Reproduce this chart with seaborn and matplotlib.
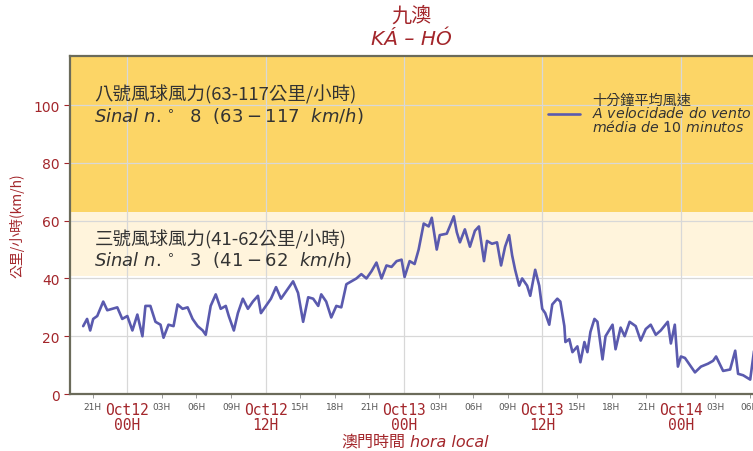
import pandas as pd
import matplotlib
matplotlib.use('Agg')
import matplotlib.pyplot as plt
import matplotlib.dates as mdates
from matplotlib.ticker import FuncFormatter
import seaborn as sns

sns.set_style('white')
plt.rcParams['font.family'] = ['DejaVu Sans', 'Noto Sans CJK TC']
plt.rcParams['axes.unicode_minus'] = False

# 讀圖估計: 距離 10月12日 00時 的小時數, 以及十分鐘平均風速 (km/h)
hours = [-3.83, -3.49, -3.22, -2.96, -2.61, -2.09, -1.74, -1.31, -0.87, -0.44,
         0.0, 0.44, 0.87, 1.31, 1.57, 2.0, 2.44, 2.88, 3.14, 3.57,
         4.01, 4.36, 4.79, 5.23, 5.66, 6.10, 6.54, 6.80, 7.23, 7.67,
         8.10, 8.54, 8.80, 9.24, 9.59, 10.02, 10.46, 10.89, 11.33, 11.59,
         12.03, 12.46, 12.90, 13.33, 13.77, 14.38, 14.81, 15.25, 15.69, 16.12,
         16.56, 16.82, 17.25, 17.69, 18.13, 18.56, 19.0, 19.43, 19.87, 20.30,
         20.74, 21.18, 21.61, 22.05, 22.48, 22.92, 23.36, 23.79, 24.05, 24.49,
         24.92, 25.27, 25.71, 26.14, 26.41, 26.84, 27.10, 27.71, 27.97, 28.32,
         28.58, 28.85, 29.28, 29.72, 30.15, 30.50, 30.94, 31.20, 31.63, 32.07,
         32.42, 32.77, 33.12, 33.38, 33.64, 33.99, 34.25, 34.68, 34.95, 35.38,
         35.73, 35.99, 36.25, 36.60, 36.86, 37.30, 37.56, 37.91, 38.0, 38.34,
         38.61, 39.04, 39.30, 39.65, 39.91, 40.17, 40.52, 40.78, 41.22, 41.48,
         42.09, 42.35, 42.79, 43.14, 43.57, 44.10, 44.53, 44.97, 45.40, 45.84,
         46.27, 46.88, 47.15, 47.49, 47.76, 48.02, 48.37, 48.80, 49.24, 49.76,
         50.37, 50.81, 51.07, 51.68, 52.29, 52.73, 52.98, 53.42, 54.03, 54.29,
         54.55]
speed = [23.5, 26, 22, 26, 27, 32, 29, 29.5, 30, 26,
         27, 22, 27.5, 20, 30.5, 30.5, 25, 24, 19.5, 24,
         23.5, 31, 29.5, 30, 26, 23.5, 22, 20.5, 30.5, 34.5,
         29.5, 30.5, 27, 22, 28, 33, 29.5, 32, 34, 28,
         30.5, 33, 37, 33, 35.5, 39, 35, 25, 33.5, 33,
         30.5, 34.5, 32, 26.5, 30.5, 30, 38, 39, 40, 41.5,
         40, 42.5, 45.5, 40, 44.5, 44, 46, 46.5, 40.5, 46,
         45, 50, 59, 58, 61, 50, 55, 55.5, 58, 61.5,
         56, 52.5, 57, 51, 56.5, 58, 46, 53, 52, 52.5,
         44.5, 51, 55, 48, 43, 37.5, 40, 37.5, 34, 43,
         37.5, 29.5, 28, 24, 31, 33, 32, 23.5, 18, 19,
         14.5, 16.5, 11, 18, 14.5, 21.5, 26, 25, 12, 20,
         24, 15.5, 23, 20, 25, 23.5, 18.5, 22.5, 24, 20.5,
         22, 25, 17.5, 24, 9.5, 13, 12.5, 10, 7.5, 9.5,
         10.5, 11.5, 13, 8, 8.5, 15, 7, 6.5, 5, 13,
         20]

base = pd.Timestamp('2023-10-12 00:00')
df = pd.DataFrame({'time': base + pd.to_timedelta(hours, unit='h'), 'speed': speed})

red = '#A3262B'
line_color = '#5A5AAE'
cjk = ['Noto Sans CJK TC', 'DejaVu Sans']

fig = plt.figure(figsize=(7.53, 4.52), dpi=100)
ax = fig.add_axes([0.093, 0.126, 0.912, 0.748])

# 風球區間
ax.axhspan(63, 117, color='#FCD566', zorder=0, lw=0)
ax.axhspan(41, 63, color='#FFF4DC', zorder=0, lw=0)

sns.lineplot(data=df, x='time', y='speed', ax=ax, color=line_color, lw=1.9,
             label='十分鐘平均風速\n$A\\ velocidade\\ do\\ vento$\n$média\\ de\\ 10\\ minutos$')

ax.set_ylim(0, 117)
ax.set_xlim(base + pd.Timedelta(hours=-4.97), base + pd.Timedelta(hours=54.6))
ax.set_yticks([0, 20, 40, 60, 80, 100])
ax.grid(True, which='major', color='#d8d8d8', lw=0.9)
for l in ax.get_ygridlines() + ax.get_xgridlines():
    l.set_zorder(1)

ax.xaxis.set_major_locator(mdates.HourLocator(byhour=[0, 12]))
ax.xaxis.set_minor_locator(mdates.HourLocator(byhour=range(0, 24, 3)))


def major_fmt(x, pos):
    d = mdates.num2date(x)
    return d.strftime('%b%d') + '\n' + d.strftime('%H') + 'H'


def minor_fmt(x, pos):
    d = mdates.num2date(x)
    if d.hour in (0, 12):
        return ''
    return d.strftime('%H') + 'H'


ax.xaxis.set_major_formatter(FuncFormatter(major_fmt))
ax.xaxis.set_minor_formatter(FuncFormatter(minor_fmt))
ax.tick_params(axis='x', which='major', length=4, color=red, labelcolor=red,
               labelsize=10.5, pad=2)
ax.tick_params(axis='x', which='minor', length=3, color='#888888', labelcolor='#555555',
               labelsize=6.5, pad=3, bottom=True)
for t in ax.get_xticklabels():
    t.set_fontfamily('DejaVu Sans Mono')
    t.set_linespacing(0.95)
ax.tick_params(axis='y', length=4, color=red, labelcolor=red, labelsize=10, left=True)

for s in ['left', 'bottom', 'top']:
    ax.spines[s].set_color('#6b6b5a')
    ax.spines[s].set_linewidth(1.6)
ax.spines['right'].set_visible(False)

ax.set_xlabel('')
ax.set_ylabel('公里/小時(km/h)', color=red, fontsize=10, labelpad=6, family=cjk)

# x 軸標題: 中文 + 斜體葡文
fig.text(0.538, 0.022, '澳門時間', color=red, fontsize=11.5, ha='right', va='center', family=cjk)
fig.text(0.545, 0.022, 'hora local', color=red, fontsize=11.5, ha='left', va='center',
         style='italic')

x0 = base + pd.Timedelta(hours=-2.85)
ax.text(x0, 103.8, '八號風球風力(63-117公里/小時)', fontsize=13.3, color='#333333',
        va='center', family=cjk)
ax.text(x0, 96.5, '$Sinal\\ n.^\\circ\\ \\ 8\\ \\ (63-117\\ \\ km/h)$', fontsize=13,
        color='#333333', va='center')
ax.text(x0, 53.8, '三號風球風力(41-62公里/小時)', fontsize=13.3, color='#333333',
        va='center', family=cjk)
ax.text(x0, 46.8, '$Sinal\\ n.^\\circ\\ \\ 3\\ \\ (41-62\\ \\ km/h)$', fontsize=13,
        color='#333333', va='center')

leg = ax.legend(loc='upper right', bbox_to_anchor=(1.012, 0.93), frameon=False,
                fontsize=10.2, handlelength=2.2, labelspacing=0.2, handletextpad=0.9)
for t in leg.get_texts():
    t.set_color('#333333')
    t.set_linespacing(0.85)

fig.text(0.546, 0.965, '九澳', color=red, fontsize=14.5, ha='center', va='center', family=cjk)
fig.text(0.546, 0.912, 'KÁ – HÓ', color=red, fontsize=14.5, ha='center', va='center',
         style='italic')

fig.savefig('out.png', dpi=100)
